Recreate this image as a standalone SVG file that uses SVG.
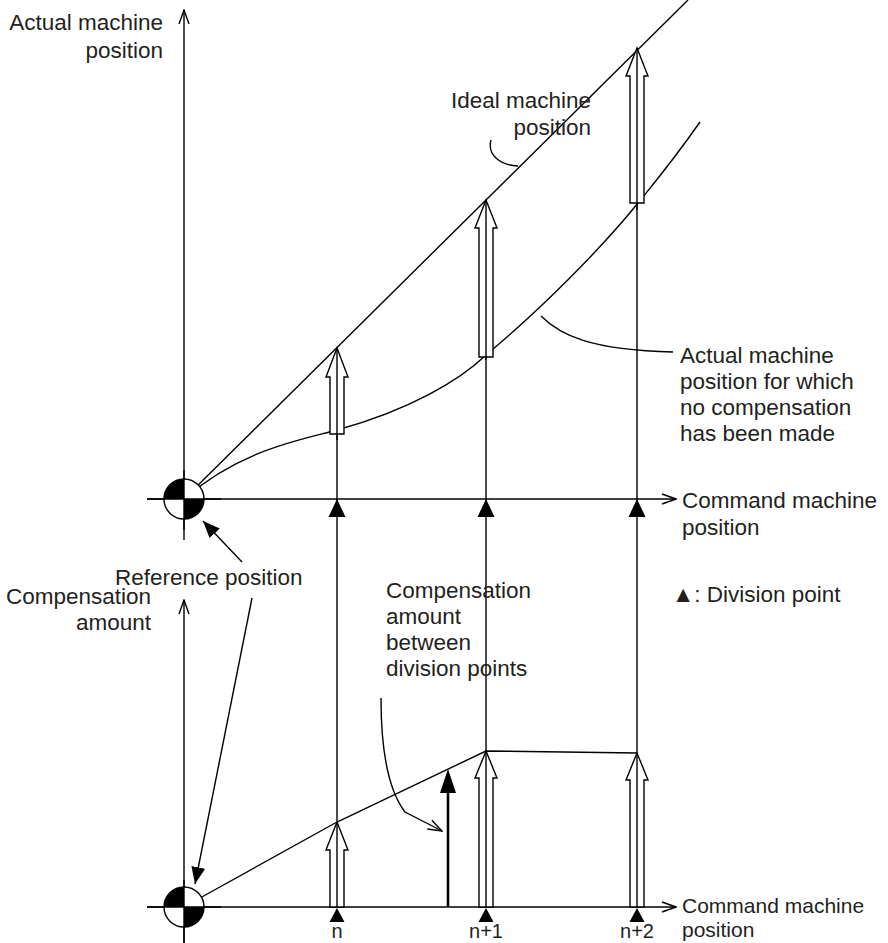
<svg xmlns="http://www.w3.org/2000/svg" width="888" height="943" viewBox="0 0 888 943">
<defs>
<style>
text{font-family:"Liberation Sans",Arial,sans-serif;font-size:22.5px;fill:#231f20}
.sm{font-size:21px}
.xs{font-size:20px}
.ln{stroke:#000;stroke-width:1.4;fill:none}
.ho{stroke:#000;stroke-width:1.4;fill:#fff}
.tri{fill:#000}
</style>
<marker id="open" markerWidth="16" markerHeight="12" refX="15" refY="6" orient="auto" markerUnits="userSpaceOnUse">
<path d="M1,1 L15,6 L1,11" fill="none" stroke="#000" stroke-width="1.4"/>
</marker>
<marker id="solid" markerWidth="18" markerHeight="14" refX="17" refY="7" orient="auto" markerUnits="userSpaceOnUse">
<path d="M0,0 L17,7 L0,14 Z" fill="#000"/>
</marker>
</defs>
<rect width="888" height="943" fill="#fff"/>

<g id="connectors">
<line class="ln" x1="184" y1="540" x2="184" y2="10" marker-end="url(#open)"/>
<line class="ln" x1="147" y1="499" x2="676" y2="499" marker-end="url(#open)"/>
<line class="ln" x1="184" y1="943" x2="184" y2="600" marker-end="url(#open)"/>
<line class="ln" x1="147" y1="907" x2="676" y2="907" marker-end="url(#open)"/>
<line class="ln" x1="184" y1="499" x2="688" y2="0"/>
<path class="ln" d="M184,499 C240,450 300,440 337,430 C410,410 460,380 486,355 C540,310 600,250 638,203 C655,182 672,162 700,122"/>
<line class="ln" x1="337" y1="348" x2="337" y2="907"/>
<line class="ln" x1="486" y1="200" x2="486" y2="907"/>
<line class="ln" x1="637" y1="48" x2="637" y2="907"/>
<polyline class="ln" points="200,898 337,822 486,751 637,753"/>
<path class="ln" d="M491,140 C487,155 500,165 518,166"/>
<path class="ln" d="M541,316 C560,335 590,350 673,352"/>
<path class="ln" d="M381,698 C381,760 392,795 405,812 L442,831" marker-end="url(#open)"/>
<line class="ln" x1="242" y1="562" x2="203" y2="521" marker-end="url(#solid)"/>
<line class="ln" x1="252" y1="598" x2="195" y2="884" marker-end="url(#solid)"/>
</g>

<g id="origin-top">
<circle cx="184" cy="499" r="20" fill="#fff" stroke="#000" stroke-width="1.4"/>
<path d="M184,499 L164,499 A20,20 0 0 1 184,479 Z" fill="#000"/>
<path d="M184,499 L204,499 A20,20 0 0 1 184,519 Z" fill="#000"/>
<line class="ln" x1="147" y1="499" x2="221" y2="499"/>
<line class="ln" x1="184" y1="470" x2="184" y2="530"/>
</g>
<g id="origin-bottom">
<circle cx="184" cy="907" r="20" fill="#fff" stroke="#000" stroke-width="1.4"/>
<path d="M184,907 L164,907 A20,20 0 0 1 184,887 Z" fill="#000"/>
<path d="M184,907 L204,907 A20,20 0 0 1 184,927 Z" fill="#000"/>
<line class="ln" x1="147" y1="907" x2="221" y2="907"/>
<line class="ln" x1="184" y1="880" x2="184" y2="943"/>
</g>

<g id="hollow-arrows-top">
<path class="ho" d="M337,348 L348,377 L344,377 L344,434 L330,434 L330,377 L326,377 Z"/>
<path class="ho" d="M486,200 L497,228 L493,228 L493,357 L479,357 L479,228 L475,228 Z"/>
<path class="ho" d="M637,48 L648,76 L644,76 L644,203 L630,203 L630,76 L626,76 Z"/>
<line class="ln" x1="337" y1="348" x2="337" y2="440"/>
<line class="ln" x1="486" y1="200" x2="486" y2="360"/>
<line class="ln" x1="637" y1="48" x2="637" y2="210"/>
</g>
<g id="hollow-arrows-bottom">
<path class="ho" d="M337,822 L348,850 L344,850 L344,907 L330,907 L330,850 L326,850 Z"/>
<path class="ho" d="M486,751 L497,778 L493,778 L493,907 L479,907 L479,778 L475,778 Z"/>
<path class="ho" d="M637,753 L648,780 L644,780 L644,907 L630,907 L630,780 L626,780 Z"/>
<line class="ln" x1="337" y1="822" x2="337" y2="907"/>
<line class="ln" x1="486" y1="751" x2="486" y2="907"/>
<line class="ln" x1="637" y1="753" x2="637" y2="907"/>
</g>
<g id="solid-arrow">
<line x1="448" y1="790" x2="448" y2="907" stroke="#000" stroke-width="2.6"/>
<path d="M448,769 L456,793 L440,793 Z" fill="#000"/>
</g>

<g id="division-points">
<path class="tri" d="M337,499 L345.5,517 L328.5,517 Z"/>
<path class="tri" d="M486,499 L494.5,517 L477.5,517 Z"/>
<path class="tri" d="M637,499 L645.5,517 L628.5,517 Z"/>
<path class="tri" d="M337,908 L344.5,922 L329.5,922 Z"/>
<path class="tri" d="M486,908 L493.5,922 L478.5,922 Z"/>
<path class="tri" d="M637,908 L644.5,922 L629.5,922 Z"/>
</g>

<g id="labels">
<text x="163" y="30" text-anchor="end">Actual machine</text>
<text x="163" y="58" text-anchor="end">position</text>
<text x="591" y="108" text-anchor="end">Ideal machine</text>
<text x="591" y="135" text-anchor="end">position</text>
<text x="680" y="363">Actual machine</text>
<text x="680" y="389">position for which</text>
<text x="680" y="415">no compensation</text>
<text x="680" y="441">has been made</text>
<text x="682" y="508">Command machine</text>
<text x="682" y="535">position</text>
<text x="115" y="585">Reference position</text>
<text x="386" y="598">Compensation</text>
<text x="386" y="624">amount</text>
<text x="386" y="650">between</text>
<text x="386" y="676">division points</text>
<text x="151" y="604" text-anchor="end">Compensation</text>
<text x="151" y="630" text-anchor="end">amount</text>
<text x="672" y="602">▲: Division point</text>
<text class="sm" x="682" y="913">Command machine</text>
<text class="sm" x="682" y="937">position</text>
<text class="xs" x="337" y="938" text-anchor="middle">n</text>
<text class="xs" x="486" y="938" text-anchor="middle">n+1</text>
<text class="xs" x="637" y="938" text-anchor="middle">n+2</text>
</g>
</svg>
